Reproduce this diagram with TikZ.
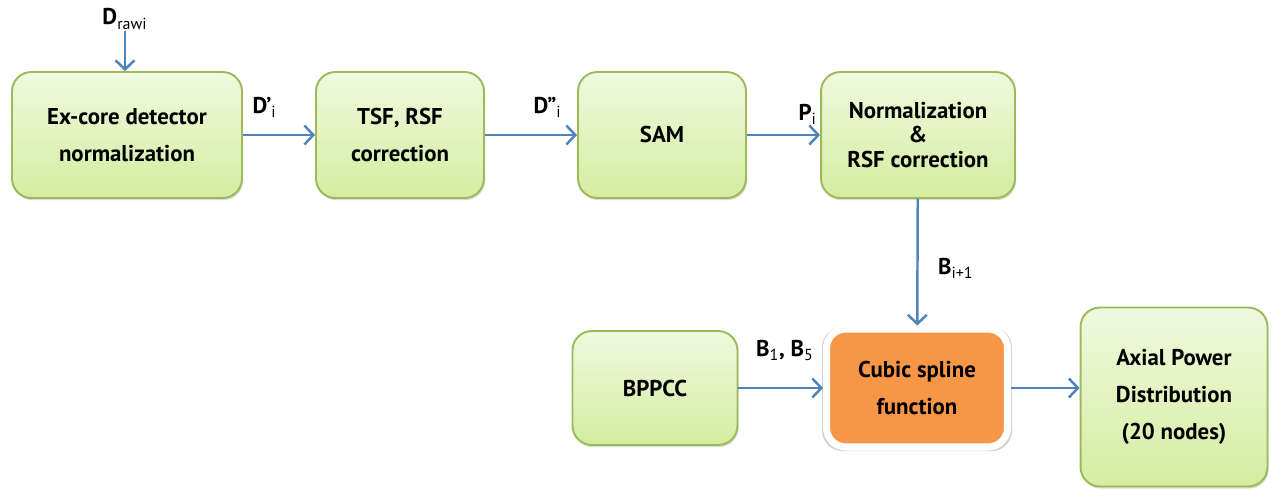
\documentclass[tikz,border=0pt]{standalone}
\usepackage{fontspec}
\setmainfont{PT Sans}
\usetikzlibrary{arrows.meta,shadows}

\definecolor{boxedge}{RGB}{155,187,89}
\definecolor{boxtop}{RGB}{240,249,223}
\definecolor{boxbot}{RGB}{212,237,160}
\definecolor{splinefill}{RGB}{247,150,70}
\definecolor{flowblue}{RGB}{79,129,189}

% lighter subscript for the signal names
\newcommand{\lo}[1]{\textsubscript{\mdseries #1}}

\tikzset{
    card/.style={rectangle, rounded corners=11pt, align=center,
        font=\fontsize{13}{21}\selectfont\bfseries,
        drop shadow={opacity=0.3, shadow xshift=0.6pt, shadow yshift=-1.2pt}},
    greenbox/.style={card, draw=boxedge, line width=1.1pt,
        top color=boxtop, bottom color=boxbot},
    flow/.style={draw=flowblue, line width=1.4pt,
        -{Straight Barb[length=1.8mm,width=3.8mm]}},
    lbl/.style={font=\fontsize{13}{15}\selectfont\bfseries, inner sep=1pt},
}

\begin{document}
\begin{tikzpicture}[x=0.02cm, y=-0.02cm]
    \useasboundingbox (0,0) rectangle (1273,490);

    % top row
    \node[greenbox, minimum width=4.6cm, minimum height=2.52cm] (excore) at (127,135)
        {Ex-core detector\\normalization};
    \node[greenbox, minimum width=3.36cm, minimum height=2.52cm] (tsf) at (400,135)
        {TSF, RSF\\correction};
    \node[greenbox, minimum width=3.36cm, minimum height=2.52cm] (sam) at (662,135)
        {SAM};
    \node[greenbox, minimum width=3.88cm, minimum height=2.52cm,
        font=\fontsize{13}{14}\selectfont\bfseries] (norm) at (918,135)
        {Normalization\\\&\\RSF correction};

    % bottom row
    \node[greenbox, minimum width=3.3cm, minimum height=2.28cm] (bppcc) at (655,388)
        {BPPCC};
    \node[card, fill=splinefill, draw=white, line width=4pt,
        drop shadow={opacity=0.35, shadow xshift=0pt, shadow yshift=-0.6pt,
            shadow scale=1.05},
        minimum width=3.62cm, minimum height=2.36cm] (spline) at (917,388)
        {Cubic spline\\function};
    \node[greenbox, minimum width=3.74cm, minimum height=3.58cm] (axial) at (1174,397)
        {Axial Power\\Distribution\\(20 nodes)};

    % raw detector input
    \node[lbl] (rawlbl) at (125,19) {D\lo{rawi}};
    \draw[flow] (rawlbl.south) -- (rawlbl.south |- excore.north);

    % signal flow
    \draw[flow] (excore) -- node[lbl, pos=.3, above=8pt] {D’\lo{i}} (tsf);
    \draw[flow] (tsf) -- node[lbl, pos=.68, above=8pt] {D”\lo{i}} (sam);
    \draw[flow] (sam) -- node[lbl, pos=.83, above=4pt] {P\lo{i}} (norm);
    \draw[flow] (norm) -- node[lbl, pos=.55, right=10pt] {B\lo{i+1}} (spline);
    \draw[flow] (bppcc) -- node[lbl, pos=.55, above=14pt] {B\lo{1}, B\lo{5}} (spline);
    \draw[flow] (spline.east) -- (spline.east -| axial.west);
\end{tikzpicture}
\end{document}
